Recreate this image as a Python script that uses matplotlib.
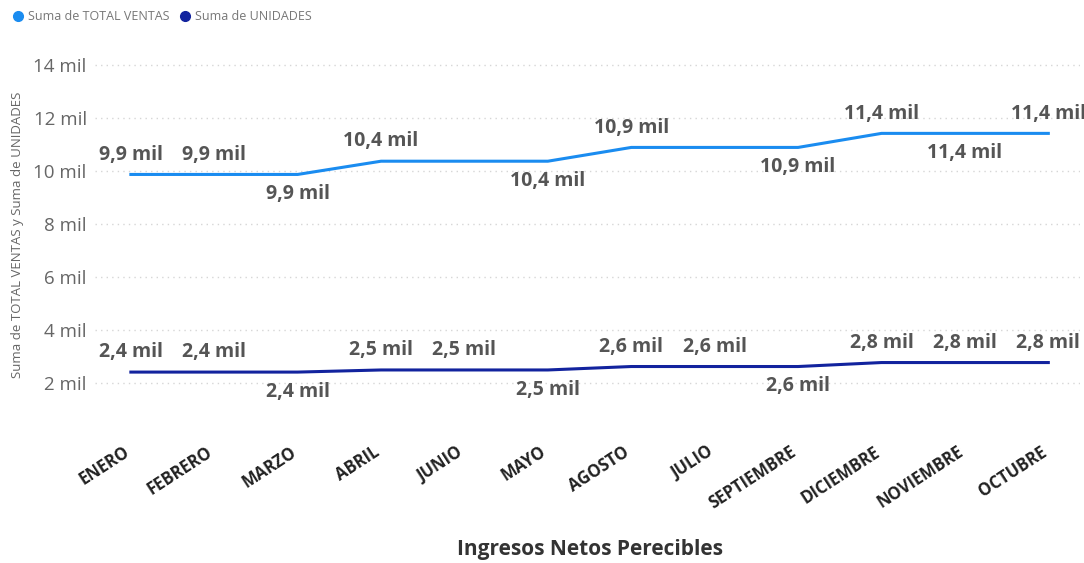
import matplotlib.pyplot as plt
from matplotlib.lines import Line2D

meses = ['ENERO', 'FEBRERO', 'MARZO', 'ABRIL', 'JUNIO', 'MAYO', 'AGOSTO',
         'JULIO', 'SEPTIEMBRE', 'DICIEMBRE', 'NOVIEMBRE', 'OCTUBRE']
total_ventas = [9.88, 9.88, 9.88, 10.38, 10.38, 10.38, 10.9, 10.9, 10.9, 11.43, 11.43, 11.43]
unidades = [2.42, 2.42, 2.42, 2.5, 2.5, 2.5, 2.63, 2.63, 2.63, 2.78, 2.78, 2.78]
# label placement: 'a' above, 'b' below, None hidden
pos_ventas = ['a', 'a', 'b', 'a', None, 'b', 'a', None, 'b', 'a', 'b', 'a']
pos_unidades = ['a', 'a', 'b', 'a', 'a', 'b', 'a', 'a', 'b', 'a', 'a', 'a']
yticks = [2, 4, 6, 8, 10, 12, 14]

c_ventas = '#1A8CF0'
c_unidades = '#12239E'
font = 'Open Sans'


def fmt(v):
    return f"{v:.1f}".replace('.', ',') + ' mil'


def add_labels(ax, vals, pos):
    for i, (v, p) in enumerate(zip(vals, pos)):
        if p is None:
            continue
        dy = 7 if p == 'a' else -7
        va = 'bottom' if p == 'a' else 'top'
        ax.annotate(fmt(v), (i, v), xytext=(0, dy), textcoords='offset points',
                    ha='center', va=va, fontsize=14, fontweight='bold',
                    color='#555555', family=font)


fig = plt.figure(figsize=(10.84, 5.63), dpi=100)
ax = fig.add_axes([95 / 1084, 1 - 415 / 563, 985 / 1084, 355 / 563])

x = list(range(len(meses)))
ax.plot(x, total_ventas, color=c_ventas, lw=2.2)
ax.plot(x, unidades, color=c_unidades, lw=2.2)
add_labels(ax, total_ventas, pos_ventas)
add_labels(ax, unidades, pos_unidades)

ax.set_xlim(-0.43, 11.38)
ax.set_ylim(0.8, 14.2)
ax.set_yticks(yticks)
ax.set_yticklabels([f"{t} mil" for t in yticks], fontsize=13.5, color='#666666', family=font)
ax.set_xticks(x)
ax.set_xticklabels([])
# month labels, nudged left of the tick like Power BI does
for i, m in enumerate(meses):
    ax.annotate(m, (i, 0), xycoords=ax.get_xaxis_transform(),
                xytext=(-6, -20), textcoords='offset points',
                rotation=33, ha='right', va='top', rotation_mode='anchor',
                fontsize=12, fontweight='bold', color='#222222', family=font)
ax.tick_params(length=0)
ax.tick_params(axis='y', pad=6)
ax.grid(axis='y', color='#d6d6d6', linestyle=(0, (1, 3)), lw=1)
for s in ax.spines.values():
    s.set_visible(False)

fig.text(590 / 1084, 1 - 550 / 563, 'Ingresos Netos Perecibles', ha='center', va='center',
         fontsize=15, fontweight='bold', color='#333333', family=font)
fig.text(18 / 1084, 1 - 235 / 563, 'Suma de TOTAL VENTAS y Suma de UNIDADES',
         rotation=90, ha='center', va='center', fontsize=9.5, color='#666666', family=font)

handles = [Line2D([], [], marker='o', ls='', color=c_ventas, markersize=7),
           Line2D([], [], marker='o', ls='', color=c_unidades, markersize=7)]
fig.legend(handles, ['Suma de TOTAL VENTAS', 'Suma de UNIDADES'],
           loc='upper left', bbox_to_anchor=(-0.004, 1.0), ncol=2, frameon=False,
           handletextpad=-0.2, columnspacing=0.2, borderaxespad=0.4,
           prop={'family': font, 'size': 9}, labelcolor='#777777')

fig.savefig('out.png', dpi=100)
